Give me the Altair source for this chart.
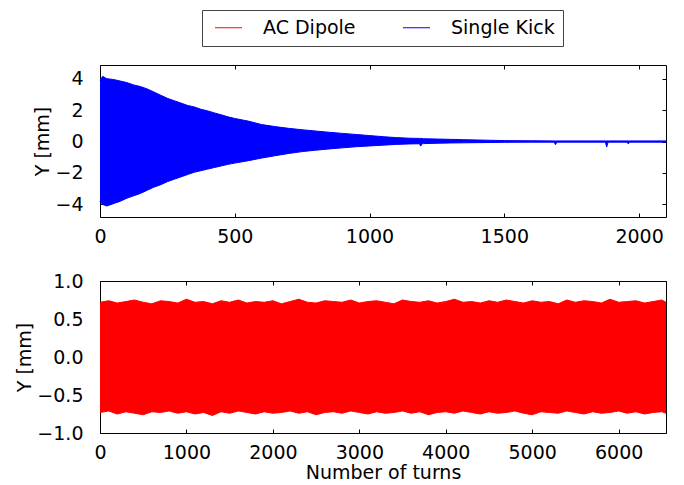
import altair as alt
import pandas as pd

# ---- Single Kick (top panel): envelope ----
kick_turns = [0, 10, 25, 50, 75, 100, 125, 150, 175, 200, 225, 250, 275, 300, 325, 350,
              375, 400, 425, 450, 475, 500, 550, 600, 650, 700, 750, 800, 850, 900, 950,
              1000, 1050, 1100, 1150, 1185, 1190, 1195, 1200, 1250, 1300, 1350, 1400, 1450,
              1500, 1600, 1685, 1690, 1695, 1800, 1875, 1880, 1885, 1955, 1960, 1965, 2100]
kick_upper = [3.90, 4.15, 4.00, 3.95, 3.85, 3.75, 3.60, 3.50, 3.35, 3.15, 2.95, 2.75, 2.60, 2.45, 2.30, 2.20,
              2.05, 1.95, 1.82, 1.70, 1.57, 1.47, 1.30, 1.08, 0.95, 0.84, 0.75, 0.67, 0.59, 0.52, 0.45,
              0.38, 0.31, 0.25, 0.21, 0.20, 0.20, 0.20, 0.18, 0.16, 0.14, 0.12, 0.10, 0.08,
              0.06, 0.05, 0.04, 0.04, 0.04, 0.04, 0.04, 0.04, 0.04, 0.04, 0.04, 0.04, 0.04]
kick_lower = [-3.80, -4.00, -4.10, -3.95, -3.80, -3.60, -3.45, -3.30, -3.10, -2.90, -2.75, -2.55, -2.40, -2.25, -2.10, -1.95,
              -1.85, -1.75, -1.65, -1.55, -1.45, -1.37, -1.22, -1.05, -0.90, -0.76, -0.64, -0.55, -0.47, -0.40, -0.33,
              -0.28, -0.23, -0.18, -0.15, -0.14, -0.29, -0.14, -0.13, -0.11, -0.09, -0.08, -0.07, -0.06,
              -0.05, -0.04, -0.04, -0.20, -0.04, -0.04, -0.04, -0.35, -0.04, -0.04, -0.15, -0.04, -0.04]

# ---- AC Dipole (bottom panel): envelope ----
acd_turns = [0, 100, 200, 300, 400, 500, 600, 700, 800, 900,
             1000, 1100, 1200, 1300, 1400, 1500, 1600, 1700, 1800, 1900,
             2000, 2100, 2200, 2300, 2400, 2500, 2600, 2700, 2800, 2900,
             3000, 3100, 3200, 3300, 3400, 3500, 3600, 3700, 3800, 3900,
             4000, 4100, 4200, 4300, 4400, 4500, 4600, 4700, 4800, 4900,
             5000, 5100, 5200, 5300, 5400, 5500, 5600, 5700, 5800, 5900,
             6000, 6100, 6200, 6300, 6400, 6500, 6548]
acd_upper = [0.72, 0.74, 0.71, 0.73, 0.75, 0.72, 0.70, 0.74, 0.73, 0.71,
             0.76, 0.72, 0.73, 0.70, 0.74, 0.72, 0.75, 0.71, 0.73, 0.72,
             0.74, 0.70, 0.73, 0.76, 0.72, 0.71, 0.74, 0.73, 0.72, 0.75,
             0.71, 0.73, 0.74, 0.72, 0.70, 0.75, 0.73, 0.72, 0.74, 0.71,
             0.73, 0.76, 0.72, 0.73, 0.71, 0.74, 0.72, 0.75, 0.73, 0.71,
             0.74, 0.72, 0.73, 0.70, 0.75, 0.72, 0.74, 0.73, 0.71, 0.76,
             0.72, 0.73, 0.74, 0.71, 0.73, 0.75, 0.72]
acd_lower = [-0.73, -0.71, -0.75, -0.72, -0.74, -0.76, -0.72, -0.73, -0.71, -0.74,
             -0.72, -0.75, -0.73, -0.77, -0.72, -0.74, -0.71, -0.73, -0.75, -0.72,
             -0.74, -0.73, -0.71, -0.74, -0.72, -0.76, -0.73, -0.72, -0.74, -0.71,
             -0.73, -0.75, -0.72, -0.74, -0.73, -0.71, -0.74, -0.72, -0.76, -0.73,
             -0.72, -0.74, -0.71, -0.73, -0.75, -0.72, -0.74, -0.73, -0.71, -0.74,
             -0.76, -0.72, -0.73, -0.74, -0.71, -0.73, -0.75, -0.72, -0.74, -0.73,
             -0.71, -0.74, -0.72, -0.75, -0.73, -0.72, -0.74]

series_names = ["AC Dipole", "Single Kick"]
series_colors = ["#ff0000", "#0000ff"]

kick_xticks = [0, 500, 1000, 1500, 2000]
kick_yticks = [-4, -2, 0, 2, 4]
acd_xticks = [0, 1000, 2000, 3000, 4000, 5000, 6000]
acd_yticks = [-1.0, -0.5, 0.0, 0.5, 1.0]

FONT = "DejaVu Sans"
FS = 19


def panel(turns, upper, lower, name, color, xdomain, ydomain, xticks, yticks, yfmt, xtitle, show_legend):
    df = pd.DataFrame({"t": turns, "hi": upper, "lo": lower, "series": name})
    long = df.melt(id_vars=["t", "series"], value_vars=["hi", "lo"], var_name="edge", value_name="v")
    xs = alt.Scale(domain=xdomain, nice=False, zero=False)
    ys = alt.Scale(domain=ydomain, nice=False, zero=False)

    xaxis_kw = dict(orient="bottom", values=xticks, offset=-4, tickSize=4, labelPadding=10,
                    domain=False, format="d")
    if xtitle:
        xaxis_kw["title"] = xtitle
        xaxis_kw["titlePadding"] = 1
    else:
        xaxis_kw["title"] = None

    area = alt.Chart(df).mark_area(color=color, opacity=1).encode(
        x=alt.X("t:Q", scale=xs, axis=alt.Axis(**xaxis_kw)),
        y=alt.Y("hi:Q", scale=ys, axis=alt.Axis(orient="left", values=yticks, format=yfmt, offset=-4,
                                                tickSize=4, labelPadding=17, domain=False,
                                                title="Y [mm]", titlePadding=2)),
        y2="lo:Q",
    )
    legend = alt.Legend(orient="none", legendX=102, legendY=-55, direction="horizontal", title=None,
                        symbolType="M-0.5,0H2.5", symbolSize=324, symbolStrokeWidth=1,
                        labelFont=FONT, labelFontSize=FS, labelColor="black", labelOffset=34,
                        columnPadding=42, padding=8, strokeColor="#444444", fillColor="white")
    cenc = alt.Color("series:N", scale=alt.Scale(domain=series_names, range=series_colors),
                     legend=legend if show_legend else None)
    line = alt.Chart(long).mark_line(strokeWidth=1).encode(
        x=alt.X("t:Q", scale=xs, axis=alt.Axis(orient="top", values=xticks, labels=False, title=None,
                                               offset=-4, tickSize=4, domain=False)),
        y=alt.Y("v:Q", scale=ys, axis=alt.Axis(orient="right", values=yticks, labels=False, title=None,
                                               offset=-4, tickSize=4, domain=False)),
        detail="edge:N",
        color=cenc,
    )
    return alt.layer(area, line).resolve_scale(x="independent", y="independent").properties(
        width=566, height=152)


top = panel(kick_turns, kick_upper, kick_lower, "Single Kick", "#0000ff",
            [0, 2100], [-4.8, 4.87], kick_xticks, kick_yticks, "d", None, True)
bottom = panel(acd_turns, acd_upper, acd_lower, "AC Dipole", "#ff0000",
               [0, 6548], [-1.0, 1.0], acd_xticks, acd_yticks, ".1f", "Number of turns", True)

chart = alt.vconcat(top, bottom, spacing=64, bounds="flush").properties(
    padding={"left": 7, "top": 1, "right": 5, "bottom": 2}
).configure_view(stroke="black", strokeWidth=1).configure_axis(
    grid=False, labelFont=FONT, labelFontSize=FS, titleFont=FONT, titleFontSize=FS,
    titleFontWeight="normal", labelColor="black", titleColor="black", tickColor="black",
    tickWidth=1, labelFlush=False, labelOverlap=False
)

chart.save("out.html", embed_options={"renderer": "svg", "actions": False})
